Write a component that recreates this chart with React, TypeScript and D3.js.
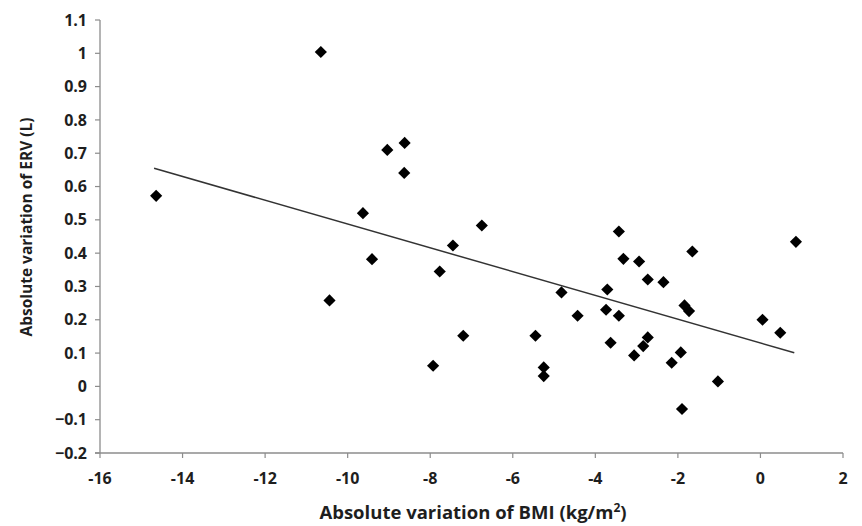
import React from "react";
import * as d3 from "d3";

const bmiChange = [
  -14.64, -10.65, -9.04, -8.62, -8.63, -9.63, -9.41, -10.44, -7.45, -6.75,
  -7.77, -7.2, -7.93, -4.82, -5.45, -5.25, -5.25, -4.43, -3.71, -3.74,
  -3.43, -3.63, -3.43, -3.32, -2.94, -2.73, -2.35, -1.65, -1.84, -1.73,
  -2.73, -2.84, -3.06, -2.15, -1.93, -1.9, -1.03, 0.05, 0.48, 0.86,
];
const ervChange = [
  0.572, 1.004, 0.71, 0.731, 0.641, 0.52, 0.382, 0.258, 0.423, 0.483,
  0.345, 0.152, 0.062, 0.282, 0.152, 0.057, 0.031, 0.212, 0.291, 0.23,
  0.212, 0.131, 0.465, 0.383, 0.375, 0.321, 0.313, 0.405, 0.243, 0.226,
  0.147, 0.121, 0.093, 0.071, 0.102, -0.068, 0.015, 0.2, 0.161, 0.434,
];
const trendX = [-14.69, 0.82];
const trendY = [0.655, 0.101];
const xTicks = [-16, -14, -12, -10, -8, -6, -4, -2, 0, 2];
const yTicks = [-0.2, -0.1, 0, 0.1, 0.2, 0.3, 0.4, 0.5, 0.6, 0.7, 0.8, 0.9, 1, 1.1];

const W = 862;
const H = 526;
const left = 100;
const right = 843;
const top = 20;
const bottom = 453;

export default function App() {
  const x = d3.scaleLinear().domain([-16, 2]).range([left, right]);
  const y = d3.scaleLinear().domain([-0.2, 1.1]).range([bottom, top]);
  const diamond = d3.symbol().type(d3.symbolSquare).size(74)() as string;
  const line = d3
    .line<number>()
    .x((_, i) => x(trendX[i]))
    .y((_, i) => y(trendY[i]));
  const font = "'Open Sans', 'DejaVu Sans', sans-serif";
  const axisColor = "#8c8c8c";
  const textColor = "#1e1e1e";
  return (
    <svg
      width={W}
      height={H}
      viewBox={`0 0 ${W} ${H}`}
      style={{ position: "absolute", left: 0, top: 0, background: "#fff" }}
    >
      <rect width={W} height={H} fill="#fff" />
      {/* axes */}
      <line x1={left} x2={left} y1={top} y2={bottom} stroke={axisColor} strokeWidth={1.3} />
      <line x1={left - 5} x2={right} y1={bottom} y2={bottom} stroke={axisColor} strokeWidth={1.3} />
      {yTicks.map((t) => (
        <g key={"y" + t}>
          <line x1={left - 5} x2={left} y1={y(t)} y2={y(t)} stroke={axisColor} strokeWidth={1.2} />
          <text
            x={left - 13}
            y={y(t)}
            dy="0.35em"
            textAnchor="end"
            fontFamily={font}
            fontWeight={700}
            fontSize={16}
            fill={textColor}
          >
            {d3.format("")(Math.round(t * 10) / 10)}
          </text>
        </g>
      ))}
      {xTicks.map((t) => (
        <g key={"x" + t}>
          <line x1={x(t)} x2={x(t)} y1={bottom} y2={bottom + 5} stroke={axisColor} strokeWidth={1.2} />
          <text
            x={x(t)}
            y={bottom + 25}
            dy="0.35em"
            textAnchor="middle"
            fontFamily={font}
            fontWeight={700}
            fontSize={16}
            fill={textColor}
          >
            {t}
          </text>
        </g>
      ))}
      {/* trend line */}
      <path d={line(trendX) || ""} fill="none" stroke="#333" strokeWidth={1.5} />
      {/* points */}
      {bmiChange.map((v, i) => (
        <path
          key={i}
          d={diamond}
          transform={`translate(${x(v)},${y(ervChange[i])}) rotate(45)`}
          fill="#000"
        />
      ))}
      {/* axis titles */}
      <text
        x={473}
        y={519}
        textAnchor="middle"
        fontFamily={font}
        fontWeight={700}
        fontSize={18.5}
        fill={textColor}
      >
        Absolute variation of BMI (kg/m
        <tspan dy={-7} fontSize={12}>2</tspan>
        <tspan dy={7}>)</tspan>
      </text>
      <text
        transform={`translate(27,227) rotate(-90)`}
        textAnchor="middle"
        dy="0.35em"
        fontFamily={font}
        fontWeight={700}
        fontSize={15.5}
        fill={textColor}
      >
        Absolute variation of ERV (L)
      </text>
    </svg>
  );
}
